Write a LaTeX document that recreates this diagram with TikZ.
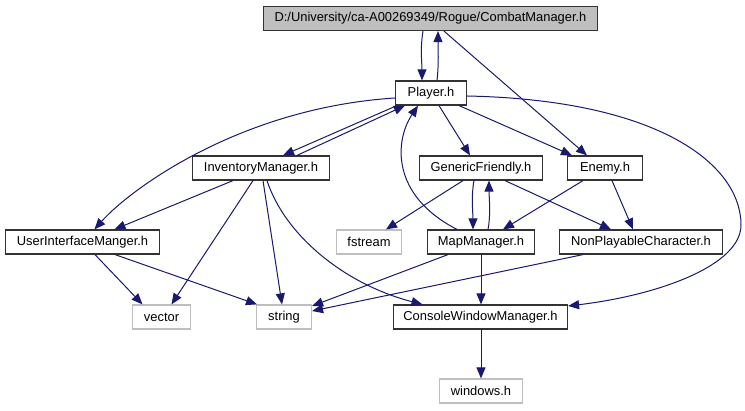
\documentclass[tikz,border=0pt]{standalone}
\usepackage{fontspec}
\setmainfont{Liberation Sans}
\usetikzlibrary{arrows.meta,calc}
\definecolor{edgeblue}{HTML}{191970}
\definecolor{boxgray}{HTML}{BFBFBF}
\definecolor{boxdark}{HTML}{333333}
\begin{document}
\begin{tikzpicture}[x=1pt,y=-1pt,
  box/.style={draw=boxdark, line width=1.2pt, rectangle, minimum height=24pt, inner sep=0pt, font=\fontsize{12.9}{15}\selectfont, text=black},
  sys/.style={box, draw=boxgray},
  e/.style={draw=edgeblue, line width=1pt, -{Triangle[length=11pt,width=9pt]}}]
\useasboundingbox (0,0) rectangle (745,411);
\fill[white] (0,0) rectangle (745,411);

\node[box, fill=boxgray, minimum width=334pt] (cm) at (430.5,18.5) {D:/University/ca-A00269349/Rogue/CombatManager.h};
\node[box, minimum width=71pt] (player) at (431,93) {Player.h};
\node[box, minimum width=137pt] (inv) at (261,168) {InventoryManager.h};
\node[box, minimum width=123pt] (gf) at (481,168) {GenericFriendly.h};
\node[box, minimum width=75pt] (enemy) at (605,168) {Enemy.h};
\node[box, minimum width=154pt] (uim) at (82.5,242) {UserInterfaceManger.h};
\node[sys, minimum width=65pt] (fstream) at (369,242) {fstream};
\node[box, minimum width=107pt] (map) at (481,242) {MapManager.h};
\node[box, minimum width=163pt] (npc) at (641,242) {NonPlayableCharacter.h};
\node[sys, minimum width=58pt] (vector) at (161.5,317) {vector};
\node[sys, minimum width=55pt] (string) at (284,317) {string};
\node[box, minimum width=174pt] (cwm) at (480.5,317) {ConsoleWindowManager.h};
\node[sys, minimum width=83pt] (win) at (481,391) {windows.h};

% CombatManager <-> Player
\draw[e] ([xshift=-7.5pt]cm.south) .. controls +(-3,18) and +(0,-18) .. ([xshift=-9pt]player.north);
\draw[e] ([xshift=6pt]player.north) .. controls +(2,-18) and +(0,18) .. ([xshift=7.5pt]cm.south);
\draw[e] ([xshift=13.5pt]cm.south) -- ([xshift=-18pt]enemy.north);

% Player out
\draw[e] ([xshift=2pt]player.south west) -- ([xshift=22pt]inv.north);
\draw[e] ([xshift=36pt]inv.north) -- ([xshift=10pt]player.south west);
\draw[e] ([yshift=-5pt]player.west) .. controls +(-155,10) and +(35.5,-40) .. ([xshift=12pt]uim.north);
\draw[e] ([xshift=8pt]player.south) -- ([xshift=-11pt]gf.north);
\draw[e] ([xshift=-8pt]player.south east) -- ([xshift=-33pt]enemy.north);
\draw[e] ([yshift=-3pt]player.east) .. controls (660,100) and (741,165) .. (741,225)
  .. controls (741,265) and (660,295) .. ([yshift=11pt]cwm.east);

% InventoryManager out
\draw[e] ([xshift=-28pt]inv.south) -- ([xshift=32pt]uim.north);
\draw[e] ([xshift=-8pt]inv.south) -- ([xshift=10pt]vector.north);
\draw[e] ([xshift=2pt]inv.south) -- ([xshift=-2pt]string.north);
\draw[e] ([xshift=6pt]inv.south) .. controls +(18,55) and +(-77.5,-20) .. ([xshift=-58pt]cwm.north);

% MapManager -> Player
\draw[e] ([xshift=-24pt]map.north) .. controls (390,195) and (395,140) .. ([xshift=-13pt]player.south);

% GenericFriendly out
\draw[e] ([xshift=-18pt]gf.south) -- ([xshift=17pt]fstream.north);
\draw[e] ([xshift=-7pt]gf.south) .. controls +(-3,15) and +(0,-15) .. ([xshift=-8pt]map.north);
\draw[e] ([xshift=7pt]map.north) .. controls +(3,-15) and +(0,15) .. ([xshift=8pt]gf.south);
\draw[e] ([xshift=24pt]gf.south) -- ([xshift=-30pt]npc.north);

% Enemy out
\draw[e] ([xshift=-22pt]enemy.south) -- ([xshift=22pt]map.north);
\draw[e] ([xshift=7pt]enemy.south) -- ([xshift=-8pt]npc.north);

% to string / CWM
\draw[e] ([xshift=-33pt]map.south) -- ([yshift=11pt]string.east);
\draw[e] ([xshift=-58pt]npc.south) -- ([yshift=6pt]string.east);
\draw[e] (map.south) -- (map.south |- cwm.north);
\draw[e] ([xshift=12.5pt]uim.south) -- ([xshift=-19pt]vector.north);
\draw[e] ([xshift=32.5pt]uim.south) -- ([xshift=-27pt]string.north);
\draw[e] (cwm.south -| win.north) -- (win.north);
\end{tikzpicture}
\end{document}
